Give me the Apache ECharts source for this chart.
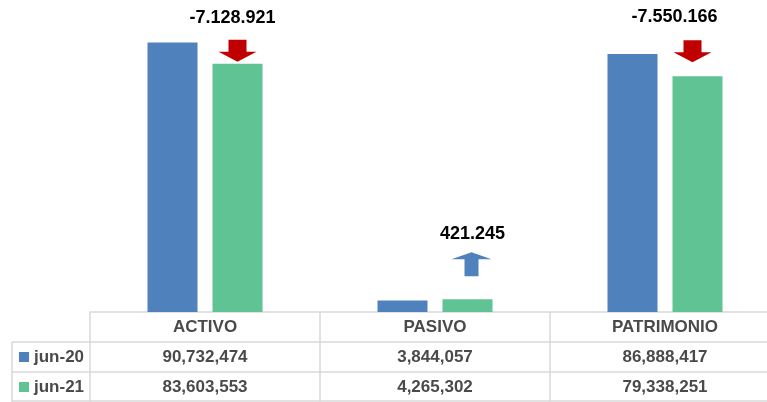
<!DOCTYPE html>
<html>
<head>
<meta charset="utf-8">
<script src="https://cdn.jsdelivr.net/npm/echarts@6/dist/echarts.min.js"></script>
<style>
  html, body { margin: 0; padding: 0; background: #fff; }
  #main { width: 767px; height: 402px; }
</style>
</head>
<body>
<div id="main"></div>
<script>
// datos del cuadro
var categorias = ['ACTIVO', 'PASIVO', 'PATRIMONIO'];
var nombres = ['jun-20', 'jun-21'];
var jun20 = [90732474, 3844057, 86888417];
var jun21 = [83603553, 4265302, 79338251];

var azul = '#4F81BD';
var verde = '#60C394';
var gris = '#D9D9D9';
var texto = '#4A4A4A';
var fuente = 'Liberation Sans';

function miles(n, sep) {
    var s = String(Math.abs(n)).replace(/\B(?=(\d{3})+(?!\d))/g, sep);
    return (n < 0 ? '-' : '') + s;
}

// flechas: roja si baja, azul si sube
var flechaBaja = 'path://M10,0 H28 V12 H38 L19,22 L0,12 H10 Z';
var flechaSube = 'path://M20,0 L40,7 H27 V24 H13 V7 H0 Z';
var ajustes = [
    { offset: [0, -13], label: [-5, 0], dist: 13 },
    { offset: [4, -35], label: [1, 0], dist: 9 },
    { offset: [-5, -25], label: [-18, 0], dist: 14 }
];

var marcas = [];
for (var i = 0; i < categorias.length; i++) {
    var dif = jun21[i] - jun20[i];
    var sube = dif > 0;
    marcas.push({
        coord: [i, jun21[i]],
        value: miles(dif, '.'),
        symbol: sube ? flechaSube : flechaBaja,
        symbolSize: sube ? [40, 24] : [38, 22],
        symbolOffset: ajustes[i].offset,
        itemStyle: { color: sube ? '#4F81BD' : '#C00000' },
        label: {
            show: true,
            position: 'top',
            distance: ajustes[i].dist,
            offset: ajustes[i].label,
            formatter: '{c}',
            color: '#000',
            fontFamily: fuente,
            fontWeight: 'bold',
            fontSize: 18
        }
    });
}

var myChart = echarts.init(document.getElementById('main'));

var option = {
    animation: false,
    grid: { left: 90, width: 690, top: 15, bottom: 90, outerBoundsMode: 'none' },
    legend: {
        orient: 'vertical',
        left: 19,
        top: 347,
        padding: 0,
        itemWidth: 10,
        itemHeight: 10,
        itemGap: 10,
        icon: 'rect',
        data: nombres,
        textStyle: { fontFamily: fuente, fontSize: 17, fontWeight: 'bold', color: texto, lineHeight: 20 }
    },
    xAxis: {
        type: 'category',
        data: categorias,
        axisLine: { show: true, lineStyle: { color: gris, width: 1.5 } },
        axisTick: { show: true, length: 90, lineStyle: { color: gris, width: 1.5 } },
        axisLabel: {
            interval: 0,
            margin: 0,
            formatter: function (value, idx) {
                return '{h|' + value + '}\n{v|' + miles(jun20[idx], ',') + '}\n{v|' + miles(jun21[idx], ',') + '}';
            },
            rich: {
                h: { fontFamily: fuente, fontSize: 17, lineHeight: 30, fontWeight: 'bold', color: texto },
                v: { fontFamily: fuente, fontSize: 17, lineHeight: 30, fontWeight: 'bold', color: texto }
            }
        }
    },
    yAxis: { type: 'value', show: false, min: 0, max: 100000000 },
    series: [
        {
            name: nombres[0],
            type: 'bar',
            data: jun20,
            barWidth: 50,
            barGap: '30%',
            itemStyle: { color: azul }
        },
        {
            name: nombres[1],
            type: 'bar',
            data: jun21,
            barWidth: 50,
            itemStyle: { color: verde },
            markPoint: { data: marcas }
        }
    ],
    graphic: [
        { type: 'line', shape: { x1: 12, y1: 342, x2: 767, y2: 342 }, style: { stroke: gris, lineWidth: 1.5 } },
        { type: 'line', shape: { x1: 12, y1: 372, x2: 767, y2: 372 }, style: { stroke: gris, lineWidth: 1.5 } },
        { type: 'line', shape: { x1: 12, y1: 401, x2: 767, y2: 401 }, style: { stroke: gris, lineWidth: 1.5 } },
        { type: 'line', shape: { x1: 12, y1: 342, x2: 12, y2: 402 }, style: { stroke: gris, lineWidth: 1.5 } }
    ]
};

myChart.setOption(option);
</script>
</body>
</html>
